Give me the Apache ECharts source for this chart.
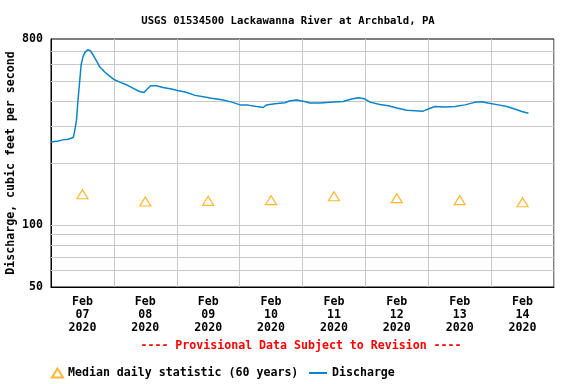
<!DOCTYPE html>
<html>
<head>
<meta charset="utf-8">
<script src="https://cdn.jsdelivr.net/npm/echarts@6/dist/echarts.min.js"></script>
<style>html,body{margin:0;padding:0;background:#fff;}#c{width:576px;height:384px;}</style>
</head>
<body>
<div id="c"></div>
<script>
const titleText = 'USGS 01534500 Lackawanna River at Archbald, PA';
const yAxisName = 'Discharge, cubic feet per second';
const provisionalText = '---- Provisional Data Subject to Revision ----';
const dayLabels = ['Feb\n07\n2020','Feb\n08\n2020','Feb\n09\n2020','Feb\n10\n2020','Feb\n11\n2020','Feb\n12\n2020','Feb\n13\n2020','Feb\n14\n2020'];
const medianValues = [141, 130, 131, 132, 138, 135, 132, 129];
const yLabelValues = [50, 100, 800];
const yGridValues = [60, 70, 80, 90, 100, 200, 300, 400, 500, 600, 700];
const xMin = '2020-02-07 00:00';
const xMax = '2020-02-15 00:00';
const dischargeTimes = [
 '2020-02-07 00:00','2020-02-07 02:45','2020-02-07 04:30','2020-02-07 06:30','2020-02-07 08:30','2020-02-07 09:00','2020-02-07 09:45','2020-02-07 10:15','2020-02-07 11:00','2020-02-07 11:30',
 '2020-02-07 12:15','2020-02-07 13:00','2020-02-07 14:00','2020-02-07 15:00','2020-02-07 16:00','2020-02-07 17:15','2020-02-07 18:30','2020-02-07 20:30','2020-02-07 22:30',
 '2020-02-08 00:15','2020-02-08 02:15','2020-02-08 04:45','2020-02-08 07:15','2020-02-08 09:45','2020-02-08 11:30','2020-02-08 12:30','2020-02-08 14:00','2020-02-08 16:15','2020-02-08 18:45','2020-02-08 22:00',
 '2020-02-09 00:15','2020-02-09 03:15','2020-02-09 07:00','2020-02-09 10:45','2020-02-09 13:15','2020-02-09 17:15','2020-02-09 21:00',
 '2020-02-10 00:15','2020-02-10 03:15','2020-02-10 06:30','2020-02-10 09:00','2020-02-10 10:15','2020-02-10 13:30','2020-02-10 17:15','2020-02-10 19:15','2020-02-10 21:45',
 '2020-02-11 00:45','2020-02-11 02:45','2020-02-11 06:45','2020-02-11 10:30','2020-02-11 15:30','2020-02-11 18:45','2020-02-11 21:15','2020-02-11 23:45',
 '2020-02-12 01:45','2020-02-12 05:30','2020-02-12 08:45','2020-02-12 12:00','2020-02-12 15:45','2020-02-12 19:00','2020-02-12 22:00',
 '2020-02-13 00:00','2020-02-13 02:30','2020-02-13 06:30','2020-02-13 10:15','2020-02-13 14:00','2020-02-13 17:45','2020-02-13 20:30','2020-02-13 22:45',
 '2020-02-14 02:45','2020-02-14 06:00','2020-02-14 09:00','2020-02-14 11:45','2020-02-14 14:15'
];
const dischargeValues = [
 253,256,259,261,266,284,324,398,507,600,
 659,689,710,702,671,630,589,553,527,
 507,494,480,462,445,440,454,474,474,465,457,
 450,442,426,418,413,406,395,
 383,382,376,372,383,388,392,401,404,
 398,391,391,394,398,409,415,410,
 395,385,379,370,361,359,357,
 366,376,374,376,383,394,397,391,
 383,376,366,356,349
];

const FONT = 'DejaVu Sans Mono';
const legendText = {fontFamily: FONT, fontWeight: 'bold', fontSize: 11.6, color: '#000'};
const chart = echarts.init(document.getElementById('c'), null, {renderer: 'canvas'});
chart.setOption({
  animation: false,
  backgroundColor: '#fff',
  title: {
    text: titleText, left: 'center', top: 11,
    textStyle: {fontFamily: FONT, fontWeight: 'bold', fontSize: 10.6, color: '#000'}
  },
  graphic: [{
    type: 'text', x: 301, y: 346,
    style: {text: provisionalText, fill: '#ff0000', font: 'bold 11.6px "DejaVu Sans Mono"', textAlign: 'center', textVerticalAlign: 'middle'}
  }],
  legend: [{
    left: 46, top: 362, itemWidth: 11, itemHeight: 9, itemGap: 8, textStyle: legendText,
    data: [{name: 'Median daily statistic (60 years)', icon: 'triangle'}]
  }, {
    left: 303, top: 362, itemWidth: 18, itemHeight: 11, textStyle: legendText,
    data: [{name: 'Discharge', itemStyle: {color: 'transparent', borderWidth: 0, opacity: 0}}]
  }],
  grid: {left: 51, right: 22, top: 39, bottom: 97, outerBoundsMode: 'none', containLabel: false, show: true, borderColor: '#000', borderWidth: 1, backgroundColor: 'transparent'},
  xAxis: [{
    type: 'time', min: xMin, max: xMax, show: false
  }, {
    type: 'category', data: dayLabels, boundaryGap: true, position: 'bottom',
    axisLine: {show: true, lineStyle: {color: '#000'}}, axisTick: {show: false},
    splitLine: {show: true, interval: 0, lineStyle: {color: '#c8c8c8', width: 1}},
    axisLabel: {interval: 0, margin: 8, lineHeight: 13, fontFamily: FONT, fontWeight: 'bold', fontSize: 11.6, color: '#000'}
  }],
  yAxis: {
    type: 'log', min: 50, max: 800, logBase: 10,
    name: yAxisName, nameLocation: 'middle', nameGap: 34, nameMoveOverlap: false,
    nameTextStyle: {fontFamily: FONT, fontWeight: 'bold', fontSize: 11.6, color: '#000'},
    axisLine: {show: true, lineStyle: {color: '#000'}}, axisTick: {show: false},
    splitLine: {show: false},
    axisLabel: {
      margin: 8, fontFamily: FONT, fontWeight: 'bold', fontSize: 11.6, color: '#000', showMinLabel: true, showMaxLabel: true,
      formatter: function (v) { const r = Math.round(v); return yLabelValues.indexOf(r) >= 0 ? String(r) : ''; }
    }
  },
  series: [{
    name: 'Median daily statistic (60 years)', type: 'scatter', xAxisIndex: 1,
    data: medianValues, symbol: 'triangle', symbolSize: [11, 9], z: 10,
    itemStyle: {color: 'transparent', borderColor: '#ffa500', borderWidth: 1.2},
    markLine: {
      silent: true, symbol: 'none', z: 1, label: {show: false},
      lineStyle: {color: '#c8c8c8', width: 1, type: 'solid'},
      data: yGridValues.map(v => ({yAxis: v}))
    }
  }, {
    name: 'Discharge', type: 'line', xAxisIndex: 0, z: 10,
    data: dischargeTimes.map((t, i) => [t, dischargeValues[i]]),
    showSymbol: false, symbol: 'none',
    lineStyle: {color: '#0a84c8', width: 1.5}, itemStyle: {color: '#0a84c8'}
  }]
});
</script>
</body>
</html>
